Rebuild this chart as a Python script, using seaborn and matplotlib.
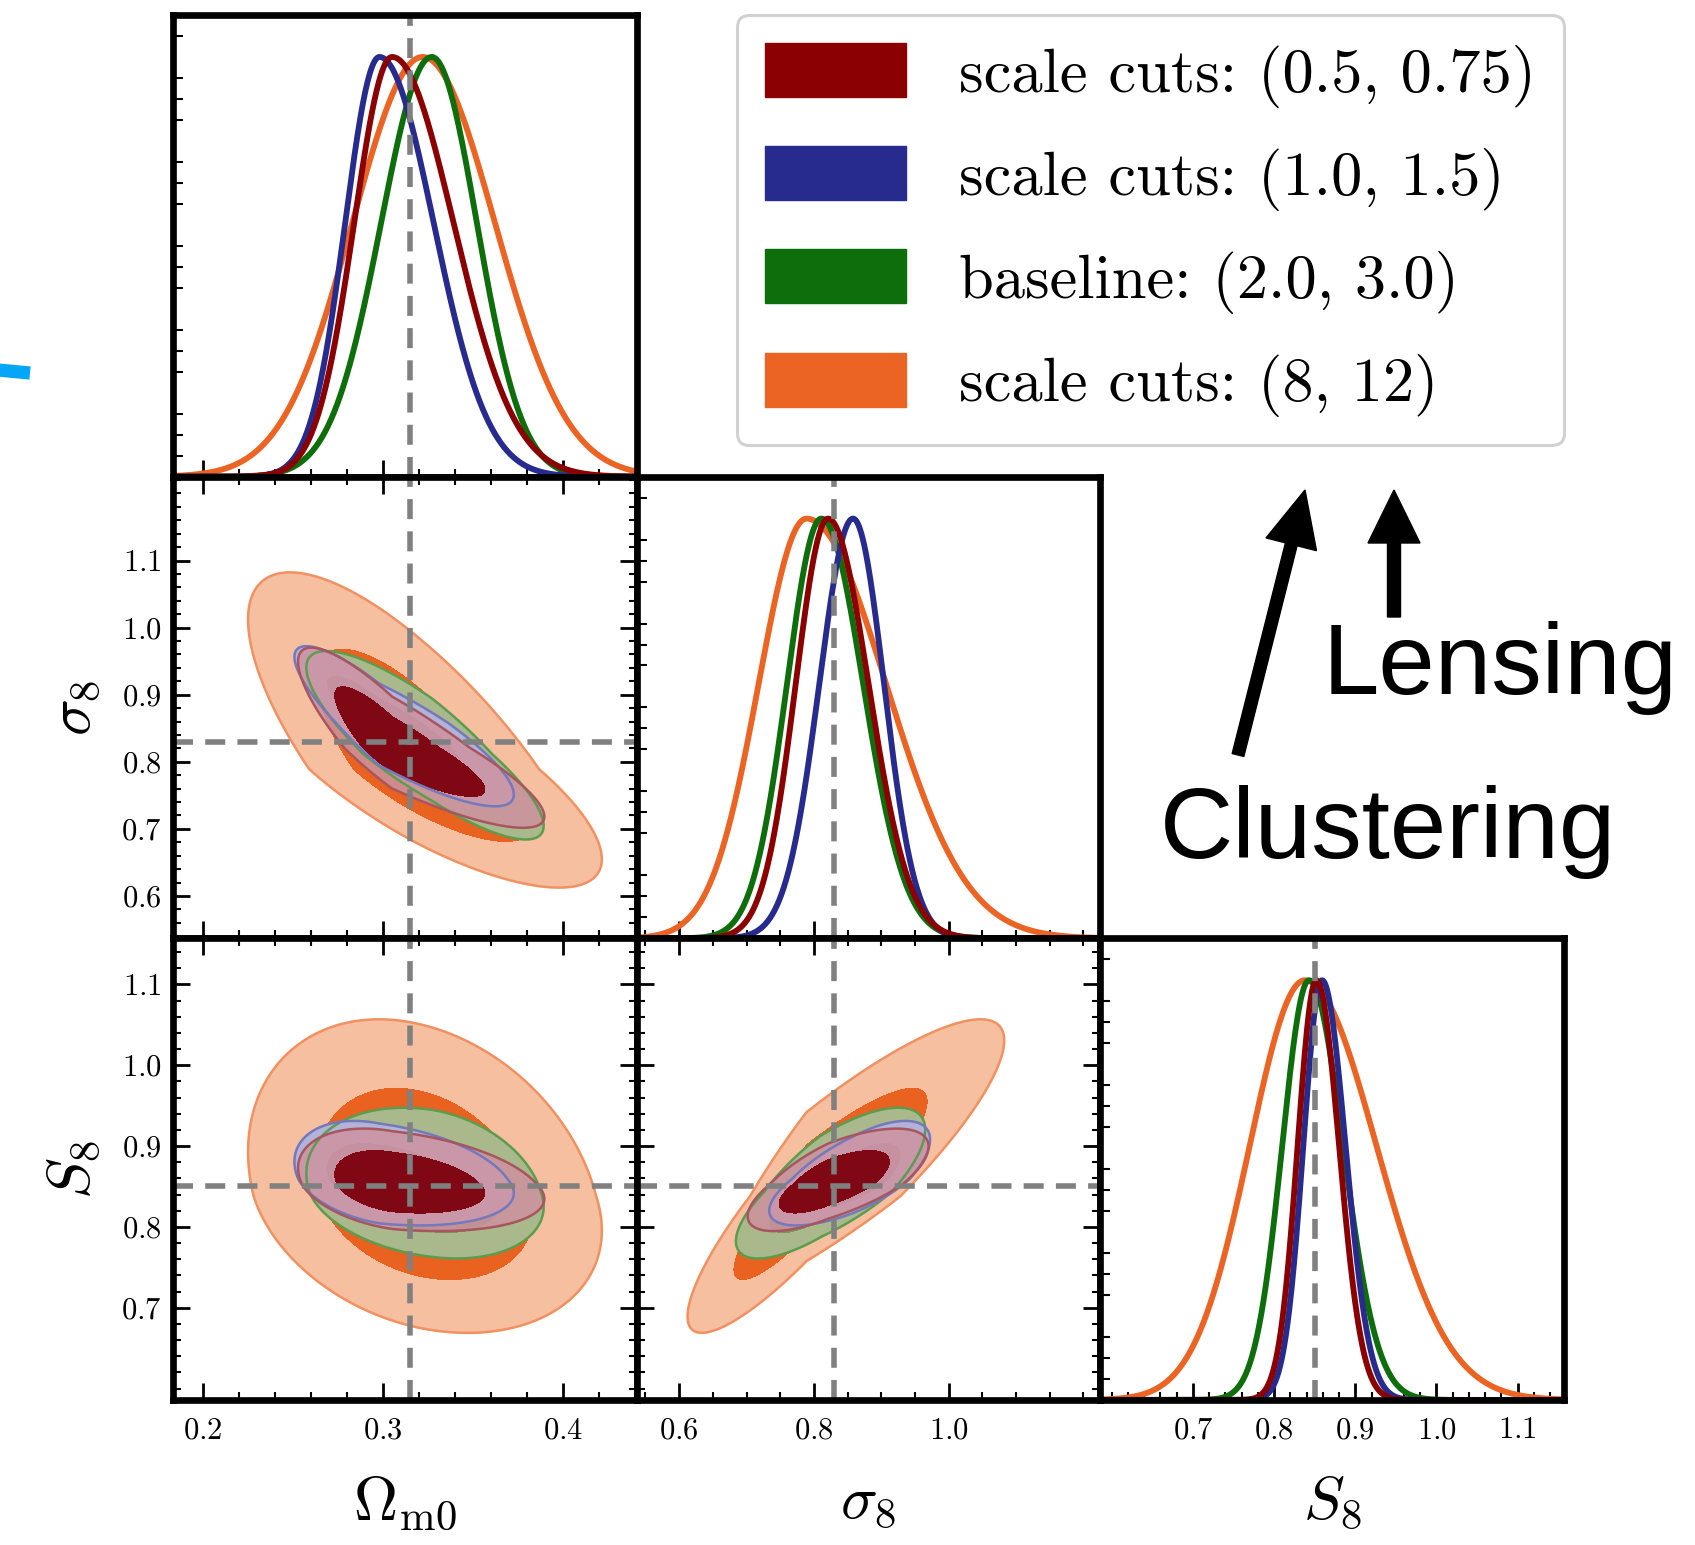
import numpy as np
import matplotlib
matplotlib.use('Agg')
import matplotlib.pyplot as plt
import seaborn as sns
from matplotlib.ticker import MultipleLocator, FixedLocator
from matplotlib.patches import Patch, FancyArrow
from matplotlib.lines import Line2D

# ---- data ----
labels = ['scale cuts: (0.5, 0.75)', 'scale cuts: (1.0, 1.5)',
          'baseline: (2.0, 3.0)', 'scale cuts: (8, 12)']
line_colors = ['#8b0000', '#272b8e', '#0f6e0c', '#ec6423']

# peak, left width, right width of each posterior
om_mode = [0.305, 0.298, 0.327, 0.322]
om_lo = [0.021, 0.019, 0.028, 0.039]
om_hi = [0.034, 0.030, 0.025, 0.040]

sig8_mode = [0.821, 0.858, 0.811, 0.789]
sig8_lo = [0.048, 0.050, 0.051, 0.071]
sig8_hi = [0.060, 0.046, 0.062, 0.118]

S8_mode = [0.852, 0.859, 0.843, 0.838]
S8_lo = [0.023, 0.023, 0.033, 0.068]
S8_hi = [0.028, 0.029, 0.042, 0.088]

# correlation in each 2D panel
rho_om_sig8 = [-0.86, -0.86, -0.84, -0.76]
rho_om_S8 = [-0.30, -0.30, -0.22, -0.25]
rho_sig8_S8 = [0.68, 0.68, 0.74, 0.88]

fid_om, fid_sig8, fid_S8 = 0.315, 0.83, 0.85

om_ticks = [0.2, 0.3, 0.4]
sig8_xticks = [0.6, 0.8, 1.0]
sig8_yticks = [0.6, 0.7, 0.8, 0.9, 1.0, 1.1]
S8_ticks = [0.7, 0.8, 0.9, 1.0, 1.1]

# ---- styling ----
fill95 = ['#cd929f', '#b3b3d7', '#a9b98b', '#f6c0a0']
fill68 = ['#7f0814', '#9c8fb0', '#7d9660', '#e9621f']
edge95 = ['#a7565f', '#7478bd', '#5c9c4f', '#f19060']
alpha95 = [0.85, 1.0, 1.0, 1.0]
draw_order = [3, 2, 1, 0]

sns.set_style('ticks')
plt.rcParams['font.family'] = 'serif'
plt.rcParams['font.serif'] = ['cmr10']
plt.rcParams['mathtext.fontset'] = 'cm'
plt.rcParams['axes.unicode_minus'] = False
plt.rcParams['axes.formatter.use_mathtext'] = True
for key in ['text.color', 'axes.labelcolor', 'xtick.color', 'ytick.color']:
    plt.rcParams[key] = 'black'

params = {
    'om': dict(mode=om_mode, lo=om_lo, hi=om_hi, lim=(0.1834, 0.4408), fid=fid_om,
               label=r'$\Omega_{\rm m0}$'),
    'sig8': dict(mode=sig8_mode, lo=sig8_lo, hi=sig8_hi, lim=(0.537, 1.225), fid=fid_sig8,
                 label=r'$\sigma_8$'),
    'S8': dict(mode=S8_mode, lo=S8_lo, hi=S8_hi, lim=(0.586, 1.157), fid=fid_S8,
               label=r'$S_8$'),
}
names = ['om', 'sig8', 'S8']
rhos = {('om', 'sig8'): rho_om_sig8, ('om', 'S8'): rho_om_S8, ('sig8', 'S8'): rho_sig8_S8}

FID_KW = dict(color='#808080', lw=4.0, dashes=(3.6, 2.2), zorder=10)


def zscore(x, mode, lo, hi):
    return np.where(x < mode, (x - mode) / lo, (x - mode) / hi)


def set_xticks(ax, name):
    if name == 'om':
        ax.xaxis.set_major_locator(FixedLocator(om_ticks))
        ax.xaxis.set_minor_locator(MultipleLocator(0.02))
    elif name == 'sig8':
        ax.xaxis.set_major_locator(FixedLocator(sig8_xticks))
        ax.xaxis.set_minor_locator(MultipleLocator(0.05))
    else:
        ax.xaxis.set_major_locator(FixedLocator(S8_ticks))
        ax.xaxis.set_minor_locator(MultipleLocator(0.02))


def set_yticks(ax, name):
    if name == 'sig8':
        ax.yaxis.set_major_locator(FixedLocator(sig8_yticks))
    else:
        ax.yaxis.set_major_locator(FixedLocator(S8_ticks))
    ax.yaxis.set_minor_locator(MultipleLocator(0.02))


fig = plt.figure(figsize=(16.95, 15.45), dpi=100)
gs = fig.add_gridspec(3, 3, left=0.1021, right=0.9227, bottom=0.0939, top=0.9903,
                      hspace=0, wspace=0)

for i, yname in enumerate(names):
    for j, xname in enumerate(names[:i + 1]):
        ax = fig.add_subplot(gs[i, j])
        px = params[xname]
        ax.set_xlim(px['lim'])
        for s in ax.spines.values():
            s.set_linewidth(4.8)
            s.set_color('black')
            s.set_zorder(20)
        set_xticks(ax, xname)

        if i == j:
            # 1D marginal
            xs = np.linspace(px['lim'][0], px['lim'][1], 600)
            for k in draw_order:
                z = zscore(xs, px['mode'][k], px['lo'][k], px['hi'][k])
                sns.lineplot(x=xs, y=np.exp(-0.5 * z ** 2), color=line_colors[k],
                             lw=4.2, ax=ax, legend=False)
            ax.axvline(px['fid'], **FID_KW)
            ax.set_ylim(0, 1.1)
            ax.yaxis.set_major_locator(MultipleLocator(0.2))
            ax.yaxis.set_minor_locator(MultipleLocator(0.05))
            ax.tick_params(axis='x', which='major', direction='in', length=12, width=2,
                           top=False, bottom=True, labelsize=22, pad=12)
            ax.tick_params(axis='x', which='minor', direction='in', length=6, width=1.5,
                           top=False, bottom=True)
            ax.tick_params(axis='y', which='major', length=0, left=True, right=False,
                           labelleft=False)
            ax.tick_params(axis='y', which='minor', direction='in', length=7, width=1.5,
                           left=True, right=False)
        else:
            py = params[yname]
            ax.set_ylim(py['lim'])
            set_yticks(ax, yname)
            gx = np.linspace(px['lim'][0], px['lim'][1], 400)
            gy = np.linspace(py['lim'][0], py['lim'][1], 400)
            X, Y = np.meshgrid(gx, gy)
            rho = rhos[(xname, yname)]
            for k in draw_order:
                zx = zscore(X, px['mode'][k], px['lo'][k], px['hi'][k])
                zy = zscore(Y, py['mode'][k], py['lo'][k], py['hi'][k])
                r = rho[k]
                chi2 = (zx ** 2 - 2 * r * zx * zy + zy ** 2) / (1 - r ** 2)
                ax.contourf(X, Y, chi2, levels=[-1, 6.18], colors=[fill95[k]],
                            alpha=alpha95[k])
                ax.contour(X, Y, chi2, levels=[6.18], colors=[edge95[k]], linewidths=1.8)
                ax.contourf(X, Y, chi2, levels=[-1, 2.30], colors=[fill68[k]])
            ax.axvline(px['fid'], **FID_KW)
            ax.axhline(py['fid'], **FID_KW)
            ax.tick_params(which='major', direction='in', length=12, width=2,
                           top=True, bottom=True, left=True, right=True, labelsize=22)
            ax.tick_params(which='minor', direction='in', length=6, width=1.5,
                           top=True, bottom=True, left=True, right=True)
            ax.tick_params(axis='x', pad=12)
            ax.tick_params(axis='y', pad=8)
            if j == 0:
                ax.set_ylabel(py['label'], fontsize=44, labelpad=14)
            else:
                ax.tick_params(axis='y', labelleft=False)

        if i == 2:
            ax.set_xlabel(px['label'], fontsize=44, labelpad=22)
        else:
            ax.tick_params(axis='x', labelbottom=False)

# legend
handles = [Patch(facecolor=c, edgecolor=c) for c in line_colors]
leg = fig.legend(handles=handles, labels=labels, loc='upper right',
                 bbox_to_anchor=(0.9227, 0.9903), fontsize=45, handlelength=2.25,
                 handleheight=0.95, handletextpad=0.85, labelspacing=0.62,
                 borderpad=0.45, borderaxespad=0, frameon=True, fancybox=True,
                 edgecolor='0.82', framealpha=1)
leg.get_frame().set_linewidth(2.2)

# arrows and annotations (positions in inches from bottom-left)
H = 15.45
fig.add_artist(FancyArrow(12.38, H - 7.55, 0.67, 2.65, width=0.12, head_width=0.52,
                          head_length=0.56, length_includes_head=True, color='black',
                          transform=fig.dpi_scale_trans))
fig.add_artist(FancyArrow(13.94, H - 6.17, 0.0, 1.27, width=0.13, head_width=0.52,
                          head_length=0.53, length_includes_head=True, color='black',
                          transform=fig.dpi_scale_trans))
fig.text(1323 / 1695, 1 - 694 / 1545, 'Lensing', fontsize=73, family='Liberation Sans',
         ha='left', va='baseline', color='black')
fig.text(1160 / 1695, 1 - 858 / 1545, 'Clustering', fontsize=73, family='Liberation Sans',
         ha='left', va='baseline', color='black')

# cropped stroke at the left edge
fig.add_artist(Line2D([-0.02, 0.30], [H - 3.70, H - 3.73], lw=9.5, color='#05a5f8',
                      solid_capstyle='butt', transform=fig.dpi_scale_trans))

fig.savefig('out.png', dpi=100)
